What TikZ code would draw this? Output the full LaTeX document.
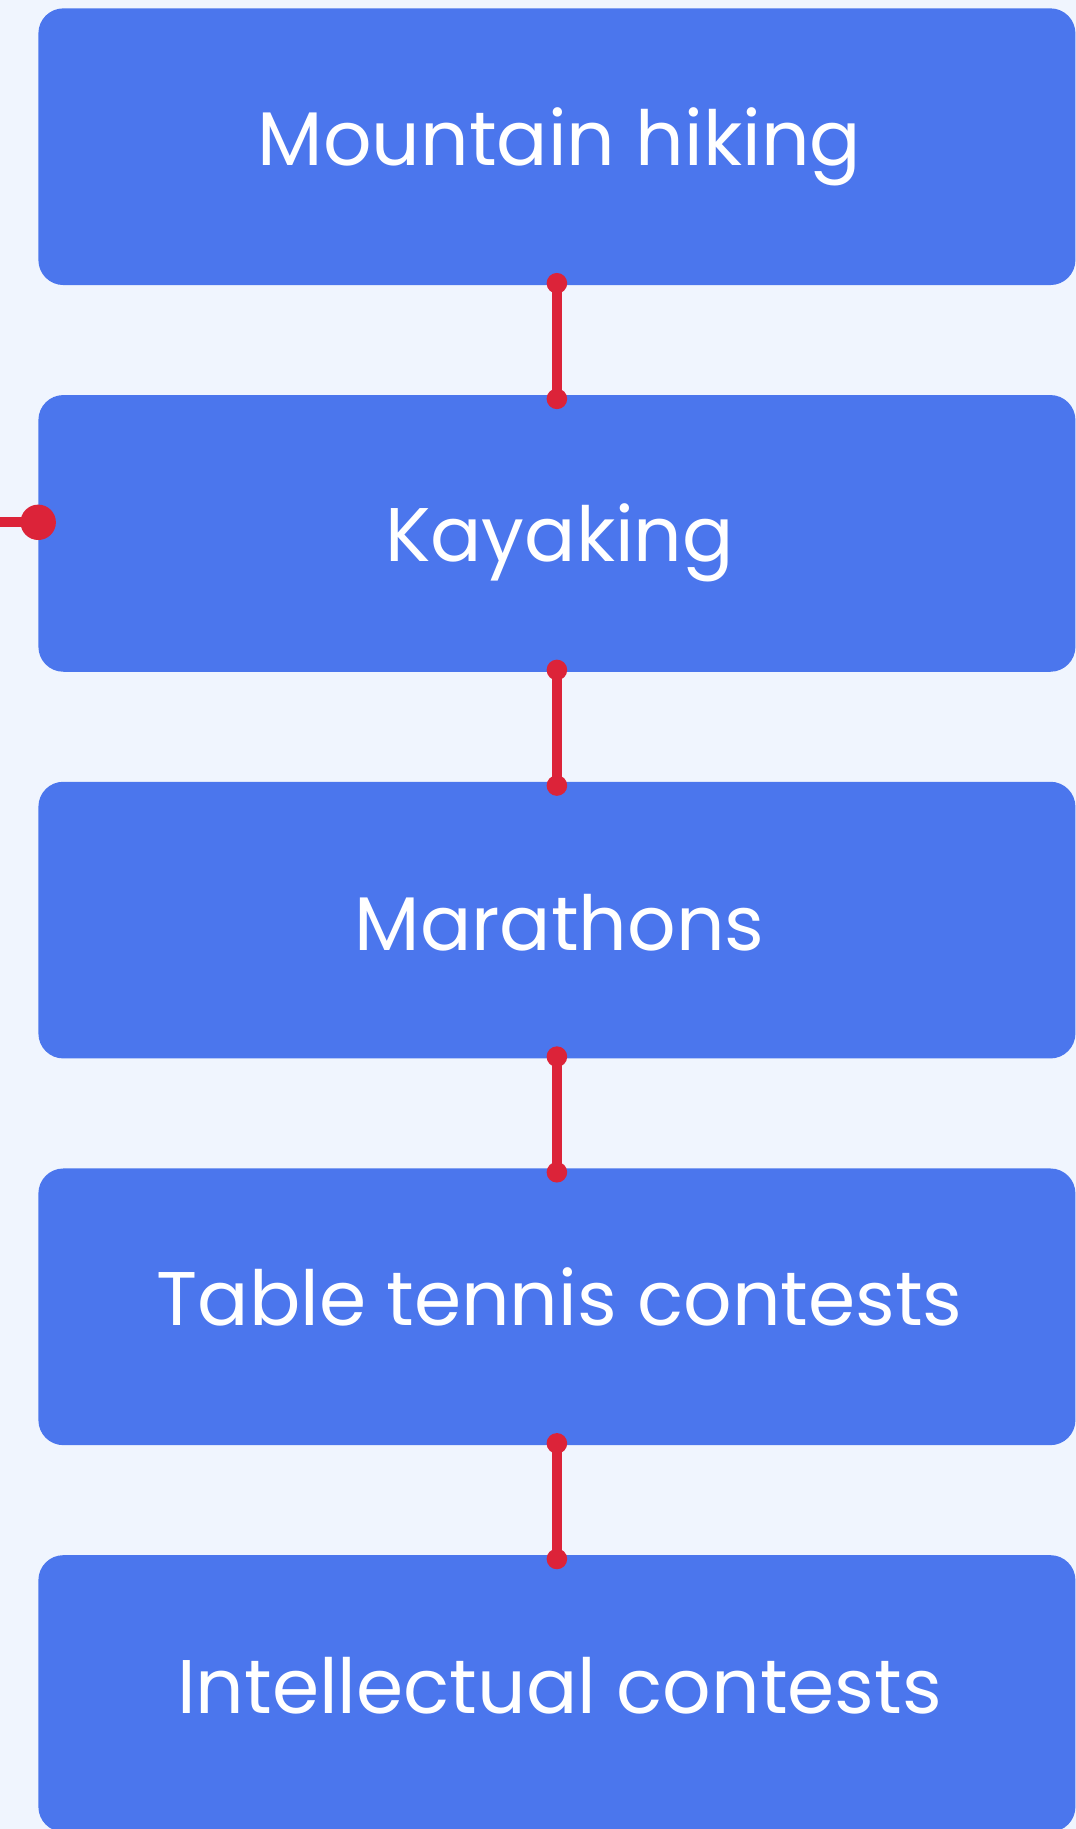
\documentclass[tikz,border=0pt]{standalone}
\usepackage{fontspec}
\setmainfont{Poppins}
\definecolor{bgc}{HTML}{F0F5FE}
\definecolor{boxc}{HTML}{4B76ED}
\definecolor{redc}{HTML}{DC2339}
\begin{document}
\begin{tikzpicture}[x=1pt,y=-1pt,
  stepbox/.style={rectangle, fill=boxc, draw=none, rounded corners=25pt,
    minimum width=1037pt, minimum height=276.7pt, inner sep=0pt},
  lbl/.style={anchor=base, text=white, inner sep=0pt,
    font=\fontsize{76}{82}\selectfont},
  link/.style={draw=redc, line width=10pt},
  dotc/.style={fill=redc, draw=none}]
\useasboundingbox (0,0) rectangle (1076,1829);
\fill[bgc] (0,0) rectangle (1076,1829);
\clip (0,0) rectangle (1076,1829);
\foreach \i/\t/\off [evaluate=\i as \yy using {146.7+386.7*(\i-1)}] in
  {1/Mountain hiking/18.3, 2/Kayaking/28.3, 3/Marathons/30.6, 4/Table tennis contests/18.2, 5/Intellectual contests/19.8} {
  \node[stepbox] (b\i) at (556.9,\yy) {};
  \node[lbl] (t\i) at (559.5,\yy+\off) {\t};
}
\foreach \a/\b in {1/2,2/3,3/4,4/5} {
  \draw[link] ([yshift=2pt]b\a.south) -- ([yshift=-4pt]b\b.north);
  \fill[dotc] ([yshift=2pt]b\a.south) circle (10.3pt);
  \fill[dotc] ([yshift=-4pt]b\b.north) circle (10.3pt);
}
\coordinate (lin) at (0,522.3);
\coordinate (lend) at (b2.west |- lin);
\draw[link] (lin) -- (lend);
\fill[dotc] (lend) circle (17.7pt);
\end{tikzpicture}
\end{document}
